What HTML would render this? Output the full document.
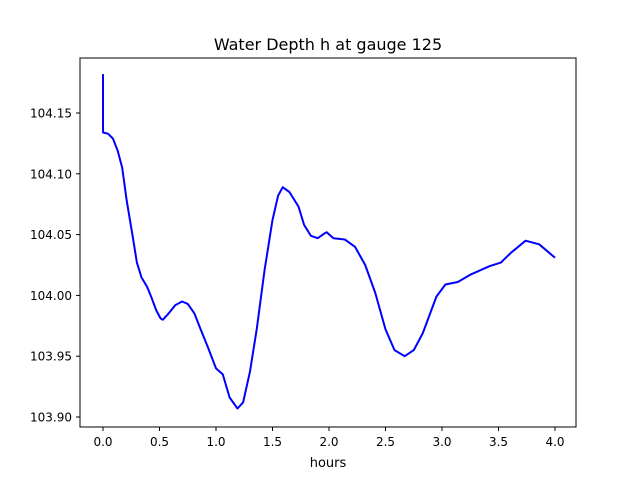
<!DOCTYPE html>
<html><head><meta charset="utf-8"><style>
body{margin:0;background:#fff;}
svg text{font-family:"DejaVu Sans","Liberation Sans",sans-serif;}
</style></head><body>
<svg id="chart" width="640" height="480" xmlns="http://www.w3.org/2000/svg">
<rect width="640" height="480" fill="#fff"/>
<text x="328" y="50" font-size="16" text-anchor="middle">Water Depth h at gauge 125</text>
<g id="ticks"></g>
<polyline id="line" fill="none" stroke="#0000ff" stroke-width="2" stroke-linejoin="round"/>
<rect x="80" y="58" width="496" height="369" fill="none" stroke="#000" stroke-width="1"/>
<text x="328" y="467" font-size="13" text-anchor="middle">hours</text>
</svg>
<script>
const times=[0,0,0.044,0.088,0.13,0.17,0.21,0.26,0.30,0.34,0.39,0.43,0.47,0.51,0.53,0.58,0.64,0.70,0.75,0.81,0.86,0.93,1.0,1.06,1.12,1.19,1.24,1.30,1.36,1.43,1.50,1.55,1.59,1.65,1.73,1.78,1.84,1.90,1.96,1.98,2.04,2.14,2.23,2.32,2.41,2.50,2.58,2.67,2.75,2.83,2.95,3.03,3.14,3.25,3.42,3.52,3.61,3.74,3.86,4.0];
const depths=[104.182,104.134,104.133,104.129,104.119,104.105,104.078,104.050,104.027,104.015,104.007,103.998,103.988,103.981,103.980,103.985,103.992,103.995,103.993,103.985,103.973,103.957,103.940,103.935,103.916,103.907,103.912,103.937,103.972,104.021,104.062,104.082,104.089,104.085,104.073,104.058,104.049,104.047,104.051,104.052,104.047,104.046,104.040,104.025,104.002,103.972,103.955,103.950,103.955,103.969,103.999,104.009,104.011,104.017,104.024,104.027,104.035,104.045,104.042,104.031];
const xTicks=["0.0","0.5","1.0","1.5","2.0","2.5","3.0","3.5","4.0"];
const yTicks=["103.90","103.95","104.00","104.05","104.10","104.15"];
function sx(t){return 103+t*113;}
function sy(v){return 417-(v-103.90)/0.25*304;}
const ns="http://www.w3.org/2000/svg";
const g=document.getElementById('ticks');
xTicks.forEach(l=>{const x=sx(parseFloat(l));
 const ln=document.createElementNS(ns,'line');
 
 
 ln.setAttribute('x1',x);ln.setAttribute('x2',x);ln.setAttribute('y1',427);ln.setAttribute('y2',431);ln.setAttribute('stroke','#000');g.appendChild(ln);
 const t=document.createElementNS(ns,'text');
 
 
 t.setAttribute('x',x);t.setAttribute('y',446);t.setAttribute('font-size','12');t.setAttribute('text-anchor','middle');t.textContent=l;g.appendChild(t);});
yTicks.forEach(l=>{const y=sy(parseFloat(l));
 const ln=document.createElementNS(ns,'line');
 
 
 ln.setAttribute('x1',76);ln.setAttribute('x2',80);ln.setAttribute('y1',y);ln.setAttribute('y2',y);ln.setAttribute('stroke','#000');g.appendChild(ln);
 const t=document.createElementNS(ns,'text');
 
 
 t.setAttribute('x',72);t.setAttribute('y',y+4.5);t.setAttribute('font-size','12');t.setAttribute('text-anchor','end');t.textContent=l;g.appendChild(t);});
document.getElementById('line').setAttribute('points',times.map((t,i)=>sx(t).toFixed(1)+','+sy(depths[i]).toFixed(1)).join(' '));
</script>
</body></html>
